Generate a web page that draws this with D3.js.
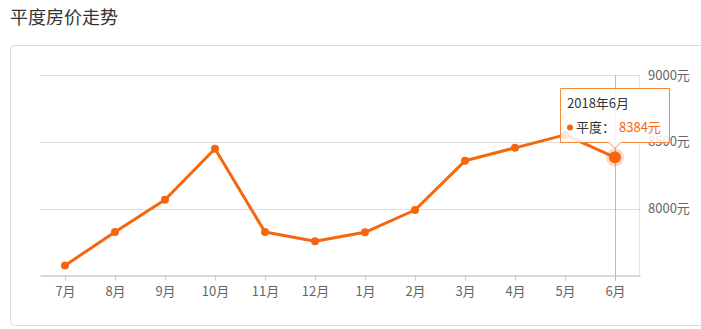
<!DOCTYPE html>
<html>
<head>
<meta charset="utf-8">
<script src="https://cdn.jsdelivr.net/npm/d3@7"></script>
<style>
  body { margin: 0; background: #fff; font-family: "Microsoft YaHei", "Noto Sans CJK SC", sans-serif; }
  svg { display: block; }
</style>
</head>
<body>
<div id="chart"></div>
<script>
// data
const months = ['7月', '8月', '9月', '10月', '11月', '12月', '1月', '2月', '3月', '4月', '5月', '6月'];
const prices = [7575, 7825, 8067, 8448, 7825, 7756, 7823, 7990, 8358, 8455, 8552, 8384];
const yTicks = [8000, 8500, 9000];
const tipTitle = '2018年6月';
const seriesName = '平度';

const W = 701, H = 329;
const orange = '#f5670f';

const svg = d3.select('#chart').append('svg')
    .attr('width', W)
    .attr('height', H);

// title
svg.append('text')
    .attr('x', 10)
    .attr('y', 24)
    .attr('font-size', 18)
    .attr('fill', '#333')
    .text('平度房价走势');

// outer box
svg.append('rect')
    .attr('x', 10.5)
    .attr('y', 45.5)
    .attr('width', 720)
    .attr('height', 280)
    .attr('rx', 4)
    .attr('fill', '#fff')
    .attr('stroke', '#ddd');

const plotL = 40, plotR = 640, plotT = 75, plotB = 275.5;

const x = d3.scalePoint()
    .domain(months)
    .range([plotL, plotR])
    .padding(0.5);

const y = d3.scaleLinear()
    .domain([7500, 9000])
    .range([plotB, plotT]);

// grid lines
svg.append('g')
    .selectAll('line')
    .data(yTicks)
    .join('line')
    .attr('x1', plotL)
    .attr('x2', plotR)
    .attr('y1', d => Math.round(y(d)) + 0.5)
    .attr('y2', d => Math.round(y(d)) + 0.5)
    .attr('stroke', '#ddd');

// right border of plot
svg.append('line')
    .attr('x1', plotR - 0.5).attr('x2', plotR - 0.5)
    .attr('y1', y(9000)).attr('y2', plotB)
    .attr('stroke', '#e3e3e3');

// y labels on right
svg.append('g')
    .selectAll('text')
    .data(yTicks)
    .join('text')
    .attr('x', 648)
    .attr('y', d => y(d) + 4.5)
    .attr('font-size', 13)
    .attr('fill', '#666')
    .text(d => d + '元');

// x axis
const xAxis = svg.append('g')
    .attr('transform', `translate(0,${plotB})`)
    .call(d3.axisBottom(x).tickSize(5).tickSizeOuter(0).tickPadding(6));
xAxis.select('.domain').attr('stroke', '#ccc').attr('stroke-width', 1.5);
xAxis.selectAll('.tick line').attr('stroke', '#ccc');
xAxis.selectAll('.tick text')
    .attr('font-size', 13)
    .attr('fill', '#666')
    .attr('font-family', '"Microsoft YaHei", "Noto Sans CJK SC", sans-serif');

// crosshair at last point
const last = months.length - 1;
svg.append('line')
    .attr('x1', Math.round(x(months[last])) + 0.5)
    .attr('x2', Math.round(x(months[last])) + 0.5)
    .attr('y1', y(9000))
    .attr('y2', plotB + 5)
    .attr('stroke', '#bbb');

// line
const line = d3.line()
    .x((d, i) => x(months[i]))
    .y(d => y(d));

svg.append('path')
    .datum(prices)
    .attr('d', line)
    .attr('fill', 'none')
    .attr('stroke', orange)
    .attr('stroke-width', 3)
    .attr('stroke-linejoin', 'round');

svg.append('g')
    .selectAll('circle')
    .data(prices)
    .join('circle')
    .attr('cx', (d, i) => x(months[i]))
    .attr('cy', d => y(d))
    .attr('r', 4)
    .attr('fill', orange);

// highlighted point
const hx = x(months[last]), hy = y(prices[last]);
svg.append('circle')
    .attr('cx', hx).attr('cy', hy).attr('r', 9)
    .attr('fill', orange).attr('opacity', 0.25);
svg.append('circle')
    .attr('cx', hx).attr('cy', hy).attr('r', 6)
    .attr('fill', orange);

// tooltip
const tx = 560.5, ty = 88.5, tw = 109, th = 54;
const tip = svg.append('g');
tip.append('path')
    .attr('d', `M${tx},${ty} h${tw} v${th} H${hx + 6} l-6,6 l-6,-6 H${tx} Z`)
    .attr('fill', 'rgba(255,255,255,0.85)')
    .attr('stroke', '#f7893c');
tip.append('text')
    .attr('x', 567)
    .attr('y', 108)
    .attr('font-size', 13)
    .attr('fill', '#333')
    .text(tipTitle);
tip.append('circle')
    .attr('cx', 570).attr('cy', 127.5).attr('r', 3)
    .attr('fill', orange);
tip.append('text')
    .attr('x', 576)
    .attr('y', 132)
    .attr('font-size', 13)
    .attr('fill', '#333')
    .text(seriesName + '：');
tip.append('text')
    .attr('x', 619)
    .attr('y', 132)
    .attr('font-size', 13)
    .attr('fill', orange)
    .text(prices[last] + '元');
</script>
</body>
</html>
